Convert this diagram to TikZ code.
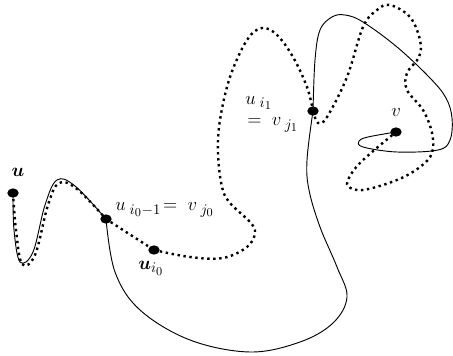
\RequirePackage{fix-cm}
\documentclass[tikz,border=0pt]{standalone}
\usepackage{amsmath,amssymb}
\usepackage{tikz}
\usetikzlibrary{positioning,shapes}
\DeclareMathSizes{14}{14}{11}{9}

\begin{document}
\begin{tikzpicture}[
    x=0.75pt,y=-0.75pt,
    pt/.style={ellipse,fill=black,inner sep=0pt,minimum width=8.5pt,minimum height=7pt},
    walk/.style={line width=0.7pt},
    dotwalk/.style={line width=1.8pt,dash pattern=on 1.8pt off 2.7pt},
    lab/.style={font=\fontsize{14}{16}\selectfont,inner sep=0pt}
]
\useasboundingbox (0,0) rectangle (453,356);

\node[pt] (u) at (13,193) {};
\node[pt] (a) at (106,219) {};
\node[pt] (c) at (154,250) {};
\node[pt] (b) at (313,111) {};
\node[pt] (v) at (396,132) {};

\node[lab] (lu) at (18,172) {$\boldsymbol{u}$};
\node[lab,anchor=west] (la) at (115,210) {$u_{\;i_0-1}\!=\;v_{\;j_0}$};
\node[lab] (lc) at (151,268) {$\boldsymbol{u}_{i_0}$};
\node[lab,anchor=west] (lb) at (245,103) {$u_{\;i_1}$};
\node[lab,anchor=west] (lb2) at (247,125) {$=\;v_{\;j_1}$};
\node[lab] (lv) at (396,112) {$v$};

% solid walk
\draw[walk] plot[smooth,tension=0.6] coordinates {(u) (14,230) (20,262) (33,252) (45,205) (57,180) (75,186) (a)};
\draw[walk] plot[smooth,tension=0.6] coordinates {(a) (115,272) (140,310) (190,340) (250,352) (300,342) (333,323) (347,297) (337,267) (320,227) (309,190) (307,160) (b)};
\draw[walk] plot[smooth,tension=0.6] coordinates {(b) (315,60) (320,30) (332,17) (345,15) (363,22) (397,47) (430,78) (446,98) (452,118) (450,140) (438,150) (397,152) (363,147) (359,141) (368,137) (v)};

% dotted walk
\draw[dotwalk] plot[smooth,tension=0.6] coordinates {(u) (16,230) (22,264) (35,255) (48,205) (59,183) (77,189) (a)};
\draw[dotwalk] (a) -- (c);
\draw[dotwalk] plot[smooth,tension=0.6] coordinates {(c) (190,257) (223,258) (247,247) (255,233) (250,222) (230,203) (222,187) (218,153) (220,120) (230,77) (247,40) (262,28) (277,35) (293,57) (307,87) (b)};
\draw[dotwalk] plot[smooth,tension=0.6] coordinates {(b) (318,123) (327,117) (347,77) (363,27) (377,10) (390,5) (410,17) (420,40) (419,57) (407,73) (407,90) (423,110) (432,133) (432,153) (420,167) (397,180) (363,190) (348,186) (350,176) (363,160) (v)};

\end{tikzpicture}
\end{document}
